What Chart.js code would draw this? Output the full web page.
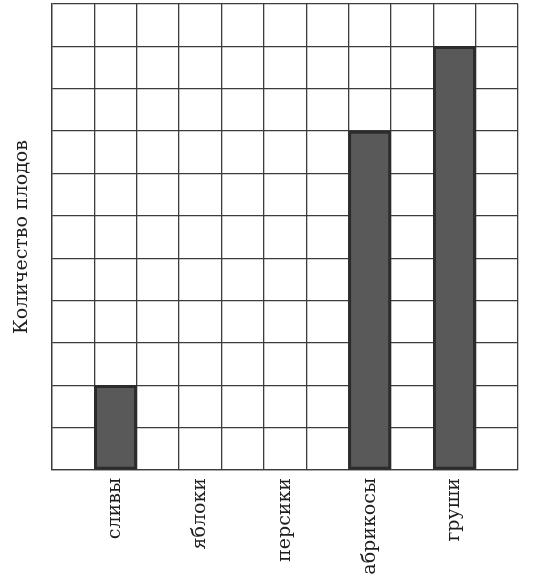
<!DOCTYPE html>
<html>
<head>
<meta charset="utf-8">
<script src="https://cdn.jsdelivr.net/npm/chart.js@4"></script>
<style>
  html, body { margin: 0; background: #fff; }
</style>
</head>
<body>
<canvas id="fruitChart" width="534" height="585"></canvas>
<script>
// Data
const fruits = ['сливы', 'яблоки', 'персики', 'абрикосы', 'груши'];
const fruitCounts = [2, 0, 0, 8, 10];
const columnCount = 11;   // grid columns
const yMax = 11;          // grid rows
const yTitle = 'Количество плодов';

// Fruits sit in every second column of the grid, starting at the second one
const labels = [];
const values = [];
for (let i = 0; i < columnCount; i++) {
    const k = (i - 1) / 2;
    if (i % 2 === 1 && k < fruits.length) {
        labels.push(fruits[k]);
        values.push(fruitCounts[k]);
    } else {
        labels.push('');
        values.push(null);
    }
}

const gridColor = '#3c3c3c';
const textColor = '#1e1e1e';
const serif = 'DejaVu Serif';

const ctx = document.getElementById('fruitChart').getContext('2d');
new Chart(ctx, {
    type: 'bar',
    data: {
        labels: labels,
        datasets: [{
            data: values,
            backgroundColor: '#595959',
            borderColor: '#2c2c2c',
            borderWidth: 3,
            borderSkipped: false,
            barPercentage: 1,
            categoryPercentage: 1
        }]
    },
    options: {
        responsive: false,
        animation: false,
        layout: { padding: { top: 4, right: 16, left: 0, bottom: 0 } },
        plugins: {
            legend: { display: false },
            tooltip: { enabled: false }
        },
        scales: {
            x: {
                afterFit: (scale) => { scale.height = 115; },
                grid: { color: gridColor, lineWidth: 1.3, drawTicks: false, offset: true },
                border: { color: gridColor, width: 1.3 },
                ticks: {
                    autoSkip: false,
                    maxRotation: 90,
                    minRotation: 90,
                    padding: 8,
                    color: textColor,
                    font: { family: serif, size: 19 }
                }
            },
            y: {
                z: 1,
                min: 0,
                max: yMax,
                afterFit: (scale) => { scale.width = 52; },
                grid: { color: gridColor, lineWidth: 1.3, drawTicks: false },
                border: { color: gridColor, width: 1.3 },
                ticks: { display: false, stepSize: 1 },
                title: {
                    display: true,
                    text: yTitle,
                    color: textColor,
                    padding: { top: 11, bottom: 0 },
                    font: { family: serif, size: 19 }
                }
            }
        }
    }
});
</script>
</body>
</html>
